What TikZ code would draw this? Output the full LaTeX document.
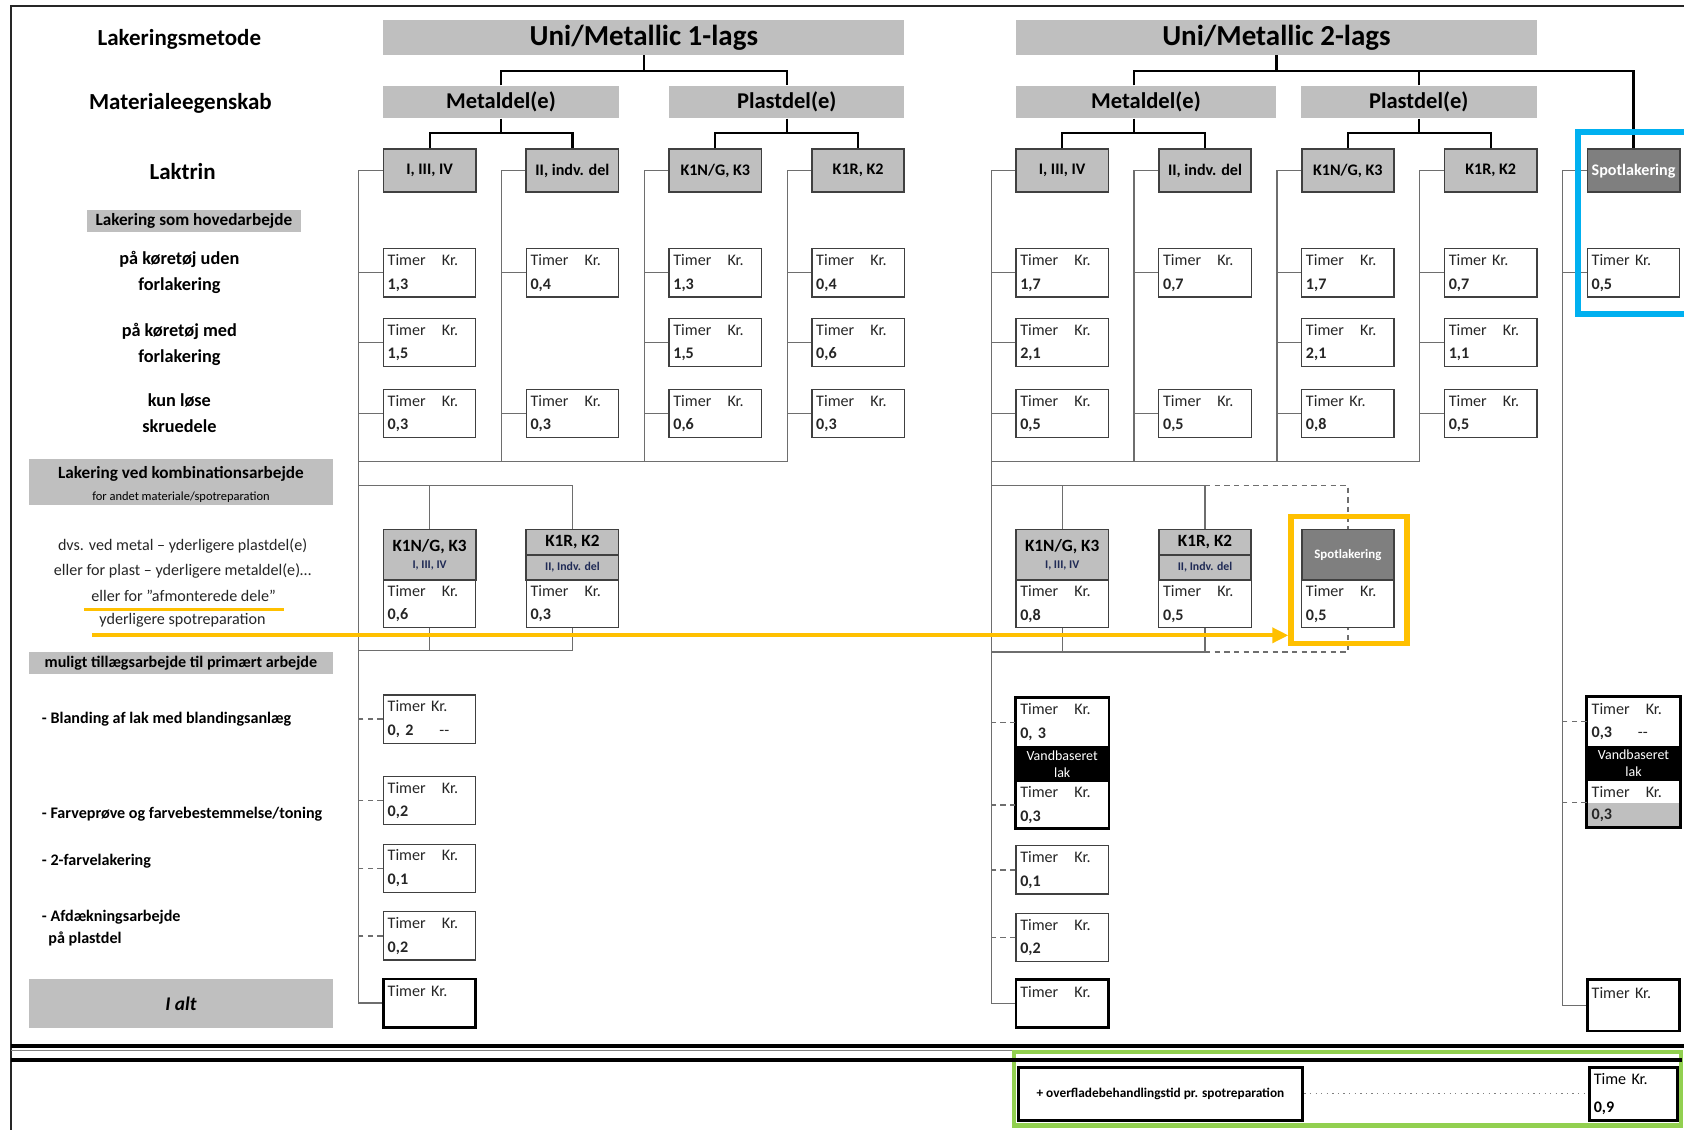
\documentclass[tikz,border=0pt]{standalone}
\usepackage{fontspec}
\setmainfont{Carlito}
\usetikzlibrary{arrows.meta}

\definecolor{hdrgray}{RGB}{191,191,191}
\definecolor{spotgray}{RGB}{127,127,127}
\definecolor{boxline}{RGB}{64,64,64}
\definecolor{railgray}{RGB}{110,110,110}
\definecolor{lineorange}{RGB}{255,192,0}
\definecolor{skyblue}{RGB}{0,176,240}
\definecolor{lgreen}{RGB}{146,208,80}
\definecolor{navy}{RGB}{31,42,85}

\tikzset{
  conn/.style={line width=1pt, black},
  rail/.style={line width=0.6pt, railgray},
  stub/.style={rail, dash pattern=on 2.5pt off 2pt},
  titlebox/.style={fill=hdrgray, minimum width=242.5pt, minimum height=16pt, inner sep=0pt, font=\bfseries\fontsize{13.5}{15}\selectfont},
  matbox/.style={fill=hdrgray, minimum height=15pt, inner sep=0pt, font=\bfseries\fontsize{10.5}{12}\selectfont},
  lakbox/.style={draw=boxline, line width=0.8pt, fill=hdrgray, minimum width=43pt, minimum height=20pt, inner sep=0pt, font=\bfseries\fontsize{7.5}{9}\selectfont},
  spotbox/.style={lakbox, fill=spotgray, text=white},
  tbox/.style={draw=boxline, line width=0.6pt, fill=white, minimum width=43pt, minimum height=22.5pt, text width=39pt, inner sep=2pt, align=left, text=black!85, font=\fontsize{7.5}{11}\selectfont},
  cell/.style={tbox, draw=none},
  totbox/.style={tbox, draw=black, line width=1.3pt},
  combohd/.style={lakbox, minimum height=23.5pt, align=center, font=\bfseries\fontsize{8}{9}\selectfont},
  waterbox/.style={fill=black, text=white, minimum width=43pt, minimum height=16.5pt, inner sep=0pt, align=center, font=\fontsize{6.5}{8}\selectfont},
  sidebig/.style={font=\bfseries\fontsize{10.7}{12}\selectfont},
  sidemid/.style={align=center, font=\bfseries\fontsize{8.5}{12}\selectfont},
  sidetxt/.style={font=\fontsize{7.5}{9}\selectfont, text=black!85},
  sidesm/.style={anchor=west, align=left, font=\bfseries\fontsize{7.5}{10.5}\selectfont},
  greybox/.style={fill=hdrgray, inner sep=0pt, minimum width=141.5pt},
  hl/.style={line width=1.7pt, lineorange},
}

\begin{document}
\begin{tikzpicture}[x=0.5pt,y=-0.5pt]
\useasboundingbox (0,0) rectangle (1568,1052);
\fill[white] (0,0) rectangle (1568,1052);

% frame
\draw[line width=0.9pt, black!85] (10,1052) -- (10,6) -- (1568,6);

% left column
\node[sidebig] (lmet) at (167,37) {Lakeringsmetode};
\node[sidebig] (lmat) at (168,96) {Materialeegenskab};
\node[sidebig] (llak) at (170,160) {Laktrin};
\node[greybox, minimum width=99.5pt, minimum height=10pt, font=\bfseries\fontsize{8}{9}\selectfont] (lhov) at (180.5,206) {Lakering som hovedarbejde};
\node[sidemid] (lrow1) at (167,254) {på køretøj uden\\forlakering};
\node[sidemid] (lrow2) at (167,321) {på køretøj med\\forlakering};
\node[sidemid] (lrow3) at (167,385) {kun løse\\skruedele};
\node[greybox, minimum height=21.5pt] (lkom) at (168.5,448.5) {};
\node[font=\bfseries\fontsize{8}{9}\selectfont] (lkom1) at (168.5,441) {Lakering ved kombinationsarbejde};
\node[font=\fontsize{5.8}{7}\selectfont] (lkom2) at (168.5,463) {for andet materiale/spotreparation};
\node[sidetxt] (ld1) at (170,508) {dvs. ved metal – yderligere plastdel(e)};
\node[sidetxt] (ld2) at (170,532) {eller for plast – yderligere metaldel(e)…};
\node[sidetxt] (ld3) at (171,555) {eller for ”afmonterede dele”};
\node[sidetxt] (ld4) at (170,578) {yderligere spotreparation};
\node[greybox, minimum height=10.5pt, font=\bfseries\fontsize{7.5}{9}\selectfont] (ltil) at (168.5,617.5) {muligt tillægsarbejde til primært arbejde};
\node[sidesm] (lt1) at (32,670) {- Blanding af lak med blandingsanlæg};
\node[sidesm] (lt2) at (32,758) {- Farveprøve og farvebestemmelse/toning};
\node[sidesm] (lt3) at (32,802) {- 2-farvelakering};
\node[sidesm] (lt4) at (32,864) {- Afdækningsarbejde\\\hspace{3pt}på plastdel};
\node[greybox, minimum height=22.5pt, font=\bfseries\itshape\fontsize{9}{10}\selectfont] (lalt) at (168.5,934.5) {I alt};

% Uni/Metallic 1-lags
\node[titlebox] (u1) at (599.5,35) {Uni/Metallic 1-lags};
\node[matbox, minimum width=109.5pt] (m1) at (466.5,95) {Metaldel(e)};
\node[matbox, minimum width=109.5pt] (p1) at (732.5,95) {Plastdel(e)};
\node[lakbox] (a11) at (400,159) {I, III, IV};
\node[lakbox] (a12) at (533,159) {II, indv. del};
\node[lakbox] (a13) at (666,159) {K1N/G, K3};
\node[lakbox] (a14) at (799,159) {K1R, K2};

\coordinate (j1) at (599.5,66);
\coordinate (jm1) at (466.5,124);
\draw[conn] (u1.south) -- (j1);
\draw[conn] (m1.north) |- (j1) -| (p1.north);
\draw[conn] (m1.south) -- (jm1);
\draw[conn] (a11.north) |- (jm1) -| (a12.north);
\draw[conn] (p1.south) -- (p1.south |- jm1);
\draw[conn] (a13.north) |- (p1.south |- jm1) -| (a14.north);

\node[tbox] (b111) at (400,254) {Timer\quad Kr.\\\textbf{1,3}};
\node[tbox] (b112) at (400,319) {Timer\quad Kr.\\\textbf{1,5}};
\node[tbox] (b113) at (400,385) {Timer\quad Kr.\\\textbf{0,3}};
\node[tbox] (b121) at (533,254) {Timer\quad Kr.\\\textbf{0,4}};
\node[tbox] (b123) at (533,385) {Timer\quad Kr.\\\textbf{0,3}};
\node[tbox] (b131) at (666,254) {Timer\quad Kr.\\\textbf{1,3}};
\node[tbox] (b132) at (666,319) {Timer\quad Kr.\\\textbf{1,5}};
\node[tbox] (b133) at (666,385) {Timer\quad Kr.\\\textbf{0,6}};
\node[tbox] (b141) at (799,254) {Timer\quad Kr.\\\textbf{0,4}};
\node[tbox] (b142) at (799,319) {Timer\quad Kr.\\\textbf{0,6}};
\node[tbox] (b143) at (799,385) {Timer\quad Kr.\\\textbf{0,3}};

% combination 1-lags
\node[combohd] (c11) at (400,516.5) {K1N/G, K3\\[-1pt]{\fontsize{5.5}{6}\selectfont\color{navy}I, III, IV}};
\node[tbox, minimum height=22pt] (c11t) at (400,562) {Timer\quad Kr.\\\textbf{0,6}};
\node[lakbox, minimum height=12pt, font=\bfseries\fontsize{8}{9}\selectfont] (c12) at (533,505) {K1R, K2};
\node[lakbox, minimum height=11.5pt, text=navy, font=\bfseries\fontsize{5.5}{6}\selectfont] (c12s) at (533,528.5) {II, Indv. del};
\node[tbox, minimum height=22pt] (c12t) at (533,562) {Timer\quad Kr.\\\textbf{0,3}};

% extra work 1-lags
\node[tbox] (e11) at (400,669.5) {Timer Kr.\\\textbf{0, 2}\hspace{12pt}-{}-};
\node[tbox] (e12) at (400,745.5) {Timer\quad Kr.\\\textbf{0,2}};
\node[tbox] (e13) at (400,808.5) {Timer\quad Kr.\\\textbf{0,1}};
\node[tbox] (e14) at (400,871.5) {Timer\quad Kr.\\\textbf{0,2}};
\node[totbox] (z1) at (400,934) {Timer Kr.\\\mbox{}};

% rails 1-lags
\coordinate (r11) at (334,159);
\coordinate (r12) at (467,159);
\coordinate (r13) at (600,159);
\coordinate (r14) at (733,159);
\coordinate (h1) at (334,430);
\coordinate (k1) at (334,452);
\coordinate (k1b) at (334,606);
\draw[rail] (a11.west) -| (z1.west -| r11) -- (z1.west);
\draw[rail] (a12.west) -| (h1 -| r12);
\draw[rail] (a13.west) -| (h1 -| r13);
\draw[rail] (a14.west) -| (h1 -| r14) -- (h1);
\draw[rail] (b111.west) -- (b111.west -| r11) (b112.west) -- (b112.west -| r11) (b113.west) -- (b113.west -| r11);
\draw[rail] (b121.west) -- (b121.west -| r12) (b123.west) -- (b123.west -| r12);
\draw[rail] (b131.west) -- (b131.west -| r13) (b132.west) -- (b132.west -| r13) (b133.west) -- (b133.west -| r13);
\draw[rail] (b141.west) -- (b141.west -| r14) (b142.west) -- (b142.west -| r14) (b143.west) -- (b143.west -| r14);
\draw[rail] (k1) -| (c12.north);
\draw[rail] (c11.north) -- (c11.north |- k1);
\draw[rail] (k1b) -| (c12t.south);
\draw[rail] (c11t.south) -- (c11t.south |- k1b);
\draw[stub] (e11.west) -- (e11.west -| r11) (e12.west) -- (e12.west -| r11) (e13.west) -- (e13.west -| r11) (e14.west) -- (e14.west -| r11);

% Uni/Metallic 2-lags
\node[titlebox] (u2) at (1188.5,35) {Uni/Metallic 2-lags};
\node[matbox, minimum width=121pt] (m2) at (1067,95) {Metaldel(e)};
\node[matbox, minimum width=110pt] (p2) at (1321,95) {Plastdel(e)};
\node[lakbox] (a21) at (989,159) {I, III, IV};
\node[lakbox] (a22) at (1122,159) {II, indv. del};
\node[lakbox] (a23) at (1255,159) {K1N/G, K3};
\node[lakbox] (a24) at (1388,159) {K1R, K2};
\node[spotbox] (a25) at (1521,159) {Spotlakering};

\coordinate (j2) at (1188.5,66);
\coordinate (jm2) at (1055.5,124);
\draw[conn] (u2.south) -- (j2);
\draw[conn] (jm2 |- m2.north) |- (j2) -| (a25.north);
\draw[conn] (p2.north) -- (p2.north |- j2);
\draw[conn] (m2.south -| jm2) -- (jm2);
\draw[conn] (a21.north) |- (jm2) -| (a22.north);
\draw[conn] (p2.south) -- (p2.south |- jm2);
\draw[conn] (a23.north) |- (p2.south |- jm2) -| (a24.north);

\node[tbox] (b211) at (989,254) {Timer\quad Kr.\\\textbf{1,7}};
\node[tbox] (b212) at (989,319) {Timer\quad Kr.\\\textbf{2,1}};
\node[tbox] (b213) at (989,385) {Timer\quad Kr.\\\textbf{0,5}};
\node[tbox] (b221) at (1122,254) {Timer\quad Kr.\\\textbf{0,7}};
\node[tbox] (b223) at (1122,385) {Timer\quad Kr.\\\textbf{0,5}};
\node[tbox] (b231) at (1255,254) {Timer\quad Kr.\\\textbf{1,7}};
\node[tbox] (b232) at (1255,319) {Timer\quad Kr.\\\textbf{2,1}};
\node[tbox] (b233) at (1255,385) {Timer Kr.\\\textbf{0,8}};
\node[tbox] (b241) at (1388,254) {Timer Kr.\\\textbf{0,7}};
\node[tbox] (b242) at (1388,319) {Timer\quad Kr.\\\textbf{1,1}};
\node[tbox] (b243) at (1388,385) {Timer\quad Kr.\\\textbf{0,5}};
\node[tbox] (b251) at (1521,254) {Timer Kr.\\\textbf{0,5}};

% combination 2-lags
\node[combohd] (c21) at (989,516.5) {K1N/G, K3\\[-1pt]{\fontsize{5.5}{6}\selectfont\color{navy}I, III, IV}};
\node[tbox, minimum height=22pt] (c21t) at (989,562.5) {Timer\quad Kr.\\\textbf{0,8}};
\node[lakbox, minimum height=12pt, font=\bfseries\fontsize{8}{9}\selectfont] (c22) at (1122,505) {K1R, K2};
\node[lakbox, minimum height=11.5pt, text=navy, font=\bfseries\fontsize{5.5}{6}\selectfont] (c22s) at (1122,528.5) {II, Indv. del};
\node[tbox, minimum height=22pt] (c22t) at (1122,562.5) {Timer\quad Kr.\\\textbf{0,5}};
\node[combohd, fill=spotgray, text=white, font=\bfseries\fontsize{6}{7}\selectfont] (c23) at (1255,516.5) {Spotlakering};
\node[tbox, minimum height=22pt] (c23t) at (1255,562.5) {Timer\quad Kr.\\\textbf{0,5}};

% extra work 2-lags
\node[cell] (e21a) at (989,672.5) {Timer\quad Kr.\\\textbf{0, 3}};
\node[waterbox] (e21v) at (989,711.5) {Vandbaseret\\lak};
\node[cell, minimum height=21.5pt] (e21b) at (989,749.5) {Timer\quad Kr.\\\textbf{0,3}};
\draw[line width=1.2pt] (e21a.north west) rectangle (e21b.south east);
\node[tbox] (e22) at (989,810) {Timer\quad Kr.\\\textbf{0,1}};
\node[tbox] (e23) at (989,873) {Timer\quad Kr.\\\textbf{0,2}};
\node[totbox] (z2) at (989,934.5) {Timer\quad Kr.\\\mbox{}};
\node[cell, minimum height=23pt] (e51a) at (1521,672) {Timer\quad Kr.\\\textbf{0,3}\hspace{12pt}-{}-};
\node[waterbox] (e51v) at (1521,711) {Vandbaseret\\lak};
\node[cell, minimum height=10.5pt] (e51b) at (1521,737.5) {Timer\quad Kr.};
\node[cell, minimum height=11pt, fill=hdrgray] (e51c) at (1521,759) {\textbf{0,3}};
\draw[line width=1.2pt] (e51a.north west) rectangle (e51c.south east);
\node[totbox, minimum height=24pt] (z5) at (1521,936) {Timer Kr.\\\mbox{}};

% rails 2-lags
\coordinate (r21) at (923,159);
\coordinate (r22) at (1056,159);
\coordinate (r23) at (1189,159);
\coordinate (r24) at (1322,159);
\coordinate (r25) at (1455,159);
\coordinate (h2) at (923,430);
\coordinate (k2) at (923,452);
\coordinate (k2b) at (923,607);
\draw[rail] (a21.west) -| (z2.west -| r21) -- (z2.west);
\draw[rail] (a22.west) -| (h2 -| r22);
\draw[rail] (a23.west) -| (h2 -| r23);
\draw[rail] (a24.west) -| (h2 -| r24) -- (h2);
\draw[rail] (a25.west) -| (z5.west -| r25) -- (z5.west);
\draw[rail] (b211.west) -- (b211.west -| r21) (b212.west) -- (b212.west -| r21) (b213.west) -- (b213.west -| r21);
\draw[rail] (b221.west) -- (b221.west -| r22) (b223.west) -- (b223.west -| r22);
\draw[rail] (b231.west) -- (b231.west -| r23) (b232.west) -- (b232.west -| r23) (b233.west) -- (b233.west -| r23);
\draw[rail] (b241.west) -- (b241.west -| r24) (b242.west) -- (b242.west -| r24) (b243.west) -- (b243.west -| r24);
\draw[rail] (b251.west) -- (b251.west -| r25);
\draw[rail] (k2) -| (c22.north);
\draw[rail] (c21.north) -- (c21.north |- k2);
\draw[rail] (k2b) -| (c22t.south);
\draw[rail] (c21t.south) -- (c21t.south |- k2b);
\draw[stub] (k2 -| c22.north) -| (c23.north);
\draw[stub] (k2b -| c22t.south) -| (c23t.south);
\draw[stub] (e21a.west) -- (e21a.west -| r21) (e21b.west) -- (e21b.west -| r21) (e22.west) -- (e22.west -| r21) (e23.west) -- (e23.west -| r21);
\draw[stub] (e51a.west) -- (e51a.west -| r25) (e51c.north west) -- (e51c.north west -| r25);

% highlights
\node[draw=lineorange, line width=2.4pt, minimum width=54pt, minimum height=59pt] (spotfr) at (1256,540) {};
\draw[hl] (ld3.south west) -- (ld3.south east);
\draw[hl, -{Triangle[length=7.5pt, width=7pt]}] (ld4.south west) -- (ld4.south west -| spotfr.west);
\draw[skyblue, line width=2.8pt] (1590,123) -- (1469,123) -- (1469,292) -- (1590,292);

% bottom part
\draw[line width=2pt] (10,974) -- (1568,974);
\draw[line width=0.5pt, gray] (10,978.5) -- (942,978.5);
\draw[lgreen, line width=1.9pt] (944,979.5) rectangle (1565,1048);
\draw[line width=2pt] (10,987) -- (1566,987);
\node[draw, line width=1.5pt, minimum width=132.5pt, minimum height=24.5pt, font=\bfseries\fontsize{6.2}{7}\selectfont] (ofl) at (1080.5,1018.5) {+ overfladebehandlingstid pr. spotreparation};
\node[draw, line width=1.5pt, minimum width=41pt, minimum height=24.5pt, text width=37pt, inner sep=2pt, align=left, font=\fontsize{7.5}{13}\selectfont] (tk) at (1521,1018.5) {Time Kr.\\\textbf{0,9}};
\draw[dotted, line width=0.6pt, gray] (ofl.east) -- (tk.west);
\end{tikzpicture}
\end{document}
